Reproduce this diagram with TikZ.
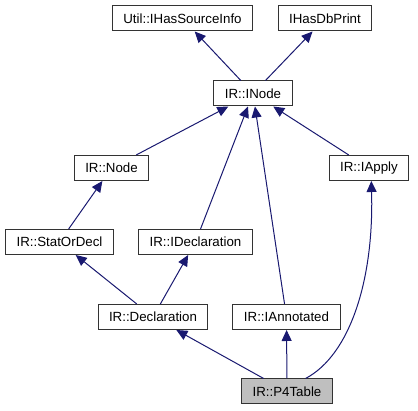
\documentclass[tikz,border=0pt]{standalone}
\usepackage{fontspec}
\setmainfont{Liberation Sans}
\usetikzlibrary{arrows.meta}
\definecolor{DoxyEdge}{HTML}{191970}
\definecolor{DoxyBorder}{HTML}{333333}
\definecolor{DoxyCurrent}{HTML}{BFBFBF}
\tikzset{
    % Box styles
    classbox/.style={
        rectangle,
        draw=DoxyBorder,
        fill=white,
        line width=1pt,
        minimum height=25pt,
        inner xsep=11pt,
        inner ysep=0pt,
        font=\fontsize{13.3}{16}\selectfont
    },
    currentbox/.style={
        classbox,
        fill=DoxyCurrent
    },
    % Arrow style
    inherit/.style={
        -{Triangle[length=11pt,width=10pt]},
        line width=1pt,
        draw=DoxyEdge
    }
}

\begin{document}
\begin{tikzpicture}[x=1pt, y=1pt]
    \useasboundingbox (0,0) rectangle (418,411);

    \node[classbox] (srcinfo) at (182.5,392.5) {Util::IHasSourceInfo};
    \node[classbox] (dbprint) at (325,392.5) {IHasDbPrint};
    \node[classbox] (inode) at (253,317.5) {IR::INode};
    \node[classbox] (irnode) at (111.5,243) {IR::Node};
    \node[classbox] (iapply) at (369,243) {IR::IApply};
    \node[classbox] (statdecl) at (59.5,169) {IR::StatOrDecl};
    \node[classbox] (ideclare) at (195.5,169) {IR::IDeclaration};
    \node[classbox] (declare) at (153,94) {IR::Declaration};
    \node[classbox] (iannot) at (286.5,94) {IR::IAnnotated};
    \node[currentbox] (ptable) at (287,19.5) {IR::P4Table};

    \draw[inherit] (inode) -- (srcinfo);
    \draw[inherit] (inode) -- (dbprint);
    \draw[inherit] (irnode) -- (inode);
    \draw[inherit] (ideclare) -- (inode);
    \draw[inherit] (iannot) -- (inode);
    \draw[inherit] (iapply) -- (inode);
    \draw[inherit] (statdecl) -- (irnode);
    \draw[inherit] (declare) -- (statdecl);
    \draw[inherit] (declare) -- (ideclare);
    \draw[inherit] (ptable) -- (declare);
    \draw[inherit] (ptable) -- (iannot);
    \draw[inherit] (ptable.35) .. controls (350,56) and (374,131) .. (iapply.-80);
\end{tikzpicture}
\end{document}
